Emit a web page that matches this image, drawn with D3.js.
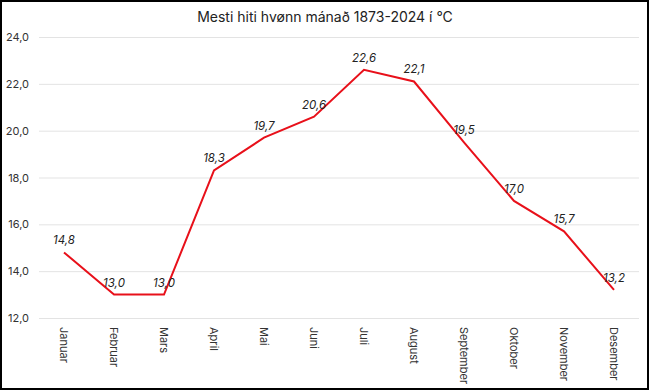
<!DOCTYPE html>
<html><head><meta charset="utf-8">
<script src="https://cdn.jsdelivr.net/npm/d3@7"></script>
<style>body{margin:0;background:#fff}svg{display:block}</style>
</head><body>
<script>
const months = ["Januar","Februar","Mars","April","Mai","Juni","Juli","August","September","Oktober","November","Desember"];
const values = [14.8,13.0,13.0,18.3,19.7,20.6,22.6,22.1,19.5,17.0,15.7,13.2];
const yTicks = [12,14,16,18,20,22,24];
const title = "Mesti hiti hvønn mánað 1873-2024 í °C";

const W = 649, H = 390;
const svg = d3.select("body").append("svg").attr("width", W).attr("height", H);
svg.append("rect").attr("x",1).attr("y",1).attr("width",W-2).attr("height",H-2)
  .attr("fill","#fff").attr("stroke","#000").attr("stroke-width",2);

const x = d3.scaleBand().domain(months).range([39, 639]);
const y = d3.scaleLinear().domain([12, 24]).range([318, 37]);
const font = "Inter, 'Open Sans', sans-serif";

svg.append("text").attr("x", 325).attr("y", 22).attr("text-anchor","middle")
  .attr("font-family", font).attr("font-size", 14).attr("fill","#222").text(title);

const gy = svg.append("g").attr("transform","translate(39,0)")
  .call(d3.axisLeft(y).tickValues(yTicks).tickSize(-600).tickFormat(d => d3.format(".1f")(d).replace(".",",")));
gy.select(".domain").remove();
gy.selectAll(".tick line").attr("stroke","#e3e3e3");
gy.selectAll(".tick text").attr("x",-10).attr("font-family",font).attr("font-size",11).attr("fill","#333");

const gx = svg.append("g").attr("transform","translate(0,318)")
  .call(d3.axisBottom(x).tickSize(0));
gx.select(".domain").remove();
gx.selectAll(".tick text").attr("font-family",font).attr("font-size",11).attr("fill","#333")
  .attr("transform","rotate(90)").attr("x",9).attr("y",0).attr("dy","0.35em").attr("text-anchor","start");

const line = d3.line().x((d,i) => x(months[i]) + x.bandwidth()/2).y(d => y(d));
svg.append("path").datum(values).attr("d", line).attr("fill","none")
  .attr("stroke","#e8101a").attr("stroke-width",2);

svg.append("g").selectAll("text").data(values).join("text")
  .attr("x",(d,i)=> x(months[i]) + x.bandwidth()/2)
  .attr("y", d => y(d) - 8)
  .attr("text-anchor","middle").attr("font-family",font).attr("font-size",11.5)
  .attr("font-style","italic").attr("fill","#222")
  .text(d => d3.format(".1f")(d).replace(".",","));
</script>
</body></html>
